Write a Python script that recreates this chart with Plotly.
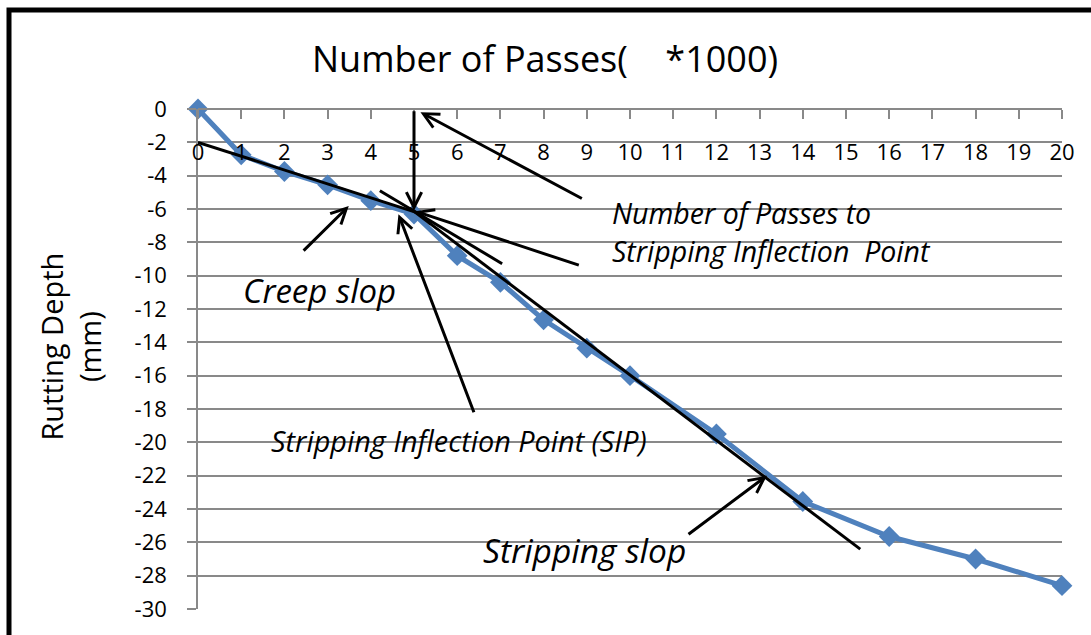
import plotly.graph_objects as go

# ---------------- data ----------------
passes = [0, 1, 2, 3, 4, 5, 6, 7, 8, 9, 10, 12, 14, 16, 18, 20]          # *1000
rut_depth = [0, -2.75, -3.75, -4.55, -5.5, -6.3, -8.8, -10.4, -12.65, -14.35,
             -16.0, -19.5, -23.55, -25.65, -27.0, -28.6]                   # mm

x_ticks = list(range(0, 21))
y_ticks = list(range(-30, 1, 2))

# fitted guide lines (creep and stripping slopes)
creep_x = [0, 5.05]
creep_y = [-2.0, -6.2]
strip_x = [4.9, 15.33]
strip_y = [-5.95, -26.41]
extra_x = [4.21, 7.04]
extra_y = [-4.9, -9.28]

# arrows: head (x, y) and tail (ax, ay) in data units
arrows = [
    (5.0, -6.1, 5.0, -0.05),
    (5.15, -0.19, 8.92, -5.42),
    (5.03, -6.13, 8.85, -9.40),
    (3.49, -5.82, 2.41, -8.59),
    (4.64, -6.31, 6.40, -18.29),
    (13.17, -22.0, 11.32, -25.58),
]

FONT = "Open Sans"
BLUE = "#4F81BD"
GRID = "#898989"

W, H = 1091, 635
ML, MR, MT, MB = 198, 29, 109, 21
PW, PH = W - ML - MR, H - MT - MB


def pxx(p):
    return (p - ML) / PW


def pxy(p):
    return (H - MB - p) / PH


fig = go.Figure()

fig.add_trace(go.Scatter(
    x=passes, y=rut_depth, mode="lines+markers",
    line=dict(color=BLUE, width=5),
    marker=dict(symbol="diamond", size=16, color=BLUE),
    cliponaxis=False, showlegend=False, hoverinfo="x+y",
))
for lx, ly in [(creep_x, creep_y), (strip_x, strip_y), (extra_x, extra_y)]:
    fig.add_trace(go.Scatter(
        x=lx, y=ly, mode="lines", line=dict(color="black", width=3),
        showlegend=False, hoverinfo="skip", cliponaxis=False,
    ))

annotations = []
for hx, hy, tx, ty in arrows:
    annotations.append(dict(
        x=hx, y=hy, ax=tx, ay=ty, xref="x", yref="y", axref="x", ayref="y",
        text="", showarrow=True, arrowhead=5, arrowsize=1, arrowwidth=3,
        arrowcolor="black", standoff=0,
    ))

italic = dict(family=FONT, color="black", style="italic")

annotations += [
    dict(x=2.81, y=-10.87, xref="x", yref="y", text="Creep slop", showarrow=False,
         xanchor="center", yanchor="middle", font=dict(size=33, **italic)),
    dict(x=9.54, y=-6.22, xref="x", yref="y", text="Number of Passes to", showarrow=False,
         xanchor="left", yanchor="middle", font=dict(size=28.5, **italic)),
    dict(x=9.54, y=-8.54, xref="x", yref="y",
         text="Stripping Inflection\u00a0\u00a0Point", showarrow=False,
         xanchor="left", yanchor="middle", font=dict(size=28.5, **italic)),
    dict(x=6.05, y=-19.88, xref="x", yref="y", text="Stripping Inflection Point (SIP)",
         showarrow=False, xanchor="center", yanchor="middle", font=dict(size=28.8, **italic)),
    dict(x=8.94, y=-26.46, xref="x", yref="y", text="Stripping slop", showarrow=False,
         xanchor="center", yanchor="middle", font=dict(size=33.5, **italic)),
    # chart title
    dict(x=pxx(545), y=pxy(58), xref="paper", yref="paper",
         text="Number of Passes(\u00a0\u00a0\u00a0\u00a0*1000)", showarrow=False,
         xanchor="center", yanchor="middle", font=dict(family=FONT, size=36, color="black")),
    # y axis title
    dict(x=pxx(71), y=pxy(349), xref="paper", yref="paper",
         text="Rutting Depth<br>(mm)", showarrow=False, textangle=-90,
         xanchor="center", yanchor="middle", font=dict(family=FONT, size=29, color="black")),
]

fig.update_layout(
    width=W, height=H,
    margin=dict(l=ML, r=MR, t=MT, b=MB, pad=0),
    paper_bgcolor="white", plot_bgcolor="white",
    showlegend=False,
    annotations=annotations,
    shapes=[dict(type="rect", xref="paper", yref="paper",
                 x0=pxx(9), x1=pxx(W + 20), y0=pxy(H + 20), y1=pxy(9),
                 line=dict(color="black", width=5), fillcolor="rgba(0,0,0,0)", layer="above")],
    xaxis=dict(
        range=[0, 20], tickvals=x_ticks, ticktext=[str(v) for v in x_ticks],
        side="bottom", anchor="free", position=1,
        showline=True, linecolor=GRID, linewidth=1.5,
        ticks="outside", ticklen=9, tickcolor=GRID, tickwidth=1.5,
        showgrid=False, zeroline=False,
        tickfont=dict(family=FONT, size=22, color="black"),
        ticklabelstandoff=15,
    ),
    yaxis=dict(
        range=[-30, 0], tickvals=y_ticks, ticktext=[str(v) for v in y_ticks],
        showline=True, linecolor=GRID, linewidth=1.5,
        ticks="outside", ticklen=9, tickcolor=GRID, tickwidth=1.5,
        showgrid=True, gridcolor=GRID, gridwidth=1.5, zeroline=False,
        tickfont=dict(family=FONT, size=22, color="black"),
        ticklabelstandoff=16,
    ),
)

fig.write_html(
    "out.html",
    config={"displayModeBar": False},
    post_script="document.body.style.margin='0';document.body.style.overflow='hidden';",
)
